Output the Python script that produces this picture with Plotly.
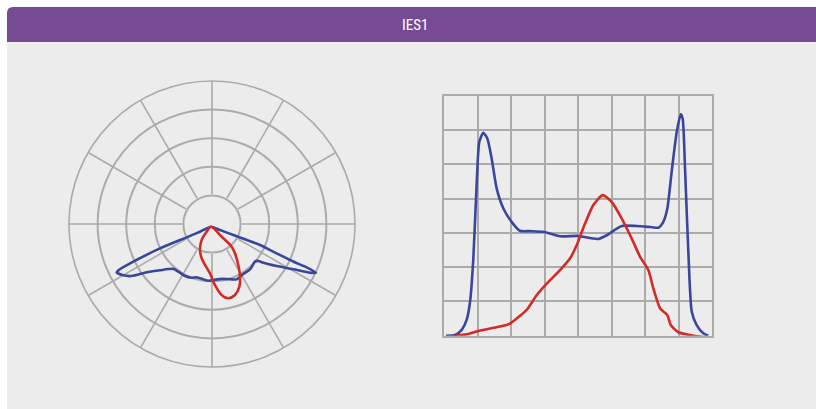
import plotly.graph_objects as go

# ---------------- data ----------------
title_text = "IES1"

# polar diagram (gamma angle in degrees, 0 = straight down, intensity in ring units)
polar_blue_theta = [-20.6, -57.4, -62.2, -64.9, -64.4, -63.8, -63.0, -59.9, -57.1, -53.5, -48.3,
                    -40.7, -35.2, -27.4, -20.8, -16.0, -8.9, -3.7, 1.4, 10.0, 18.0, 24.0, 32.1,
                    40.0, 48.8, 51.4, 53.0, 57.0, 60.9, 63.6, 64.9, 65.4, 65.2, 65.6, 66.4, 62.7,
                    53.0, -20.6]
polar_blue_r = [0.10, 0.50, 1.00, 2.01, 3.05, 3.59, 3.74, 3.58, 3.35, 2.84, 2.43,
                2.07, 2.04, 2.05, 2.01, 1.94, 1.96, 1.99, 1.96, 1.95, 2.03, 2.12, 2.06,
                2.07, 2.00, 2.07, 2.25, 2.70, 3.26, 3.83, 4.01, 3.64, 3.13, 2.48, 1.83, 0.84,
                0.35, 0.10]

polar_red_theta = [-20.6, 37.3, 40.9, 38.1, 32.7, 28.0, 23.6, 17.9, 12.4, 7.8, 2.8, -2.3,
                   -9.7, -16.8, -24.8, -32.9, -34.8, -20.6]
polar_red_r = [0.10, 0.56, 1.05, 1.30, 1.70, 2.09, 2.39, 2.61, 2.66, 2.51, 2.14, 1.73,
               1.45, 1.25, 1.00, 0.67, 0.33, 0.10]

# linear diagram (gamma angle vs intensity in grid units)
lin_blue_x = [-88.7, -82.6, -78.1, -74.8, -72.5, -70.3, -68.1, -66.3, -63.6, -60.9, -58.0,
              -54.6, -50.1, -44.6, -39.0, -32.2, -23.3, -12.1, 0.0, 7.9, 13.7, 19.3, 29.3,
              39.4, 48.4, 54.0, 57.3, 60.0, 62.9, 66.3, 69.0, 70.3, 71.9, 74.1, 76.4, 79.7,
              84.2, 87.5]
lin_blue_y = [0.0, 0.02, 0.17, 0.46, 0.99, 2.25, 4.39, 5.65, 5.92, 5.75, 5.17,
              4.29, 3.71, 3.32, 3.06, 3.05, 3.03, 2.90, 2.91, 2.85, 2.82, 2.93, 3.20,
              3.20, 3.17, 3.15, 3.32, 3.71, 4.78, 5.94, 6.46, 6.33, 4.87, 2.45, 0.70, 0.31,
              0.07, 0.0]

lin_red_x = [-82.6, -74.8, -67.0, -56.9, -46.8, -41.2, -34.5, -27.8, -21.0, -13.2, -5.4,
             -0.9, 4.7, 10.3, 16.6, 22.6, 29.3, 36.1, 41.7, 47.3, 50.6, 55.1, 60.0, 62.3,
             67.4, 77.5, 86.4]
lin_red_y = [0.0, 0.04, 0.14, 0.23, 0.33, 0.50, 0.75, 1.18, 1.52, 1.86, 2.25,
             2.64, 3.27, 3.81, 4.10, 3.90, 3.42, 2.83, 2.30, 1.91, 1.38, 0.80, 0.60, 0.31,
             0.10, 0.0, -0.05]

spoke_angles = list(range(0, 360, 30))

# ---------------- style ----------------
W, H = 816, 409
BLUE = "#3a469c"
RED = "#d42a26"
GRID = "#ababab"
PANEL = "#ececec"
PURPLE = "#774a96"

fig = go.Figure()

# spokes (from inner ring to outer ring)
sp_r, sp_t = [], []
for a in spoke_angles:
    sp_r += [1.05, 5, None]
    sp_t += [a, a, None]
fig.add_trace(go.Scatterpolar(r=sp_r, theta=sp_t, mode="lines",
                              line=dict(color=GRID, width=1.6),
                              hoverinfo="skip", showlegend=False))

fig.add_trace(go.Scatterpolar(r=polar_blue_r, theta=polar_blue_theta, mode="lines",
                              line=dict(color=BLUE, width=2.6, shape="spline", smoothing=0.6),
                              showlegend=False, name="C0-C180"))
fig.add_trace(go.Scatterpolar(r=polar_red_r, theta=polar_red_theta, mode="lines",
                              line=dict(color=RED, width=2.6, shape="spline", smoothing=0.8),
                              showlegend=False, name="C90-C270"))

fig.add_trace(go.Scatter(x=lin_blue_x, y=lin_blue_y, mode="lines",
                         line=dict(color=BLUE, width=2.6, shape="spline", smoothing=0.6),
                         showlegend=False, cliponaxis=False))
fig.add_trace(go.Scatter(x=lin_red_x, y=lin_red_y, mode="lines",
                         line=dict(color=RED, width=2.6, shape="spline", smoothing=0.6),
                         showlegend=False, cliponaxis=False))


def px(x):
    return x / W


def py(y):
    return 1 - y / H


# header with rounded top-left corner and panel
r = 6
hx0, hy0, hy1 = 7, 7, 42
path = (f"M {px(hx0)},{py(hy1)} L {px(hx0)},{py(hy0 + r)} "
        f"Q {px(hx0)},{py(hy0)} {px(hx0 + r)},{py(hy0)} "
        f"L {px(W + 10)},{py(hy0)} L {px(W + 10)},{py(hy1)} Z")
shapes = [
    dict(type="rect", xref="paper", yref="paper", x0=px(7), x1=px(W + 10), y0=py(H + 10), y1=py(42),
         fillcolor=PANEL, line=dict(width=0), layer="below"),
    dict(type="path", xref="paper", yref="paper", path=path,
         fillcolor=PURPLE, line=dict(width=0), layer="below"),
]

fig.update_layout(
    width=W, height=H,
    margin=dict(l=0, r=0, t=0, b=0),
    paper_bgcolor="white",
    plot_bgcolor="rgba(0,0,0,0)",
    shapes=shapes,
    annotations=[dict(text=title_text, xref="paper", yref="paper", x=px(415), y=py(25),
                      showarrow=False, xanchor="center", yanchor="middle",
                      font=dict(family="Liberation Sans Narrow, Roboto Condensed, Liberation Sans, Arial",
                                size=15, color="white"))],
    polar=dict(
        domain=dict(x=[px(212 - 143), px(212 + 143)], y=[py(224 + 143), py(224 - 143)]),
        bgcolor="rgba(0,0,0,0)",
        radialaxis=dict(range=[0, 5], dtick=1, tick0=0, showticklabels=False, ticks="",
                        showline=False, gridcolor=GRID, gridwidth=1.6),
        angularaxis=dict(rotation=-90, direction="counterclockwise", dtick=30,
                         showticklabels=False, ticks="", showgrid=False,
                         showline=True, linecolor=GRID, linewidth=1.6),
    ),
    xaxis=dict(domain=[px(444), px(712)], range=[-90, 90], tick0=-90, dtick=22.5,
               showticklabels=False, ticks="", zeroline=False, showgrid=True,
               gridcolor=GRID, gridwidth=1.6, showline=True, mirror=True,
               linecolor=GRID, linewidth=1.6),
    yaxis=dict(domain=[py(335.7), py(95.7)], range=[0, 7], tick0=0, dtick=1,
               showticklabels=False, ticks="", zeroline=False, showgrid=True,
               gridcolor=GRID, gridwidth=1.6, showline=True, mirror=True,
               linecolor=GRID, linewidth=1.6),
)

# remove the default page margin so the figure fills the window exactly
fig.write_html(
    "out.html",
    config={"displayModeBar": False},
    post_script="document.body.style.margin='0';document.body.style.overflow='hidden';",
)
